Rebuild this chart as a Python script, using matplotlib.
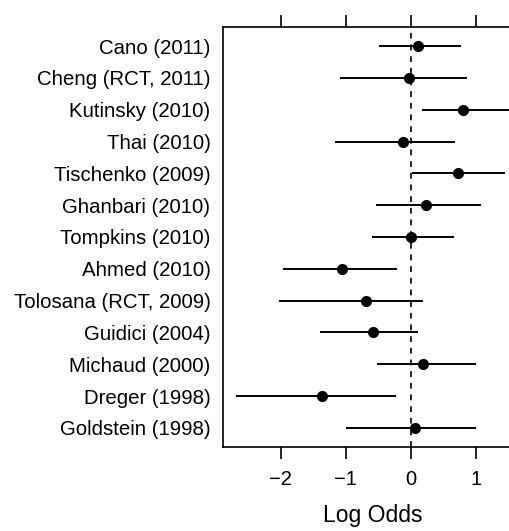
import matplotlib
matplotlib.use("Agg")
import matplotlib.pyplot as plt

# studies, top to bottom
studies = ["Cano (2011)", "Cheng (RCT, 2011)", "Kutinsky (2010)", "Thai (2010)",
           "Tischenko (2009)", "Ghanbari (2010)", "Tompkins (2010)", "Ahmed (2010)",
           "Tolosana (RCT, 2009)", "Guidici (2004)", "Michaud (2000)", "Dreger (1998)",
           "Goldstein (1998)"]
log_odds = [0.12, -0.03, 0.81, -0.12, 0.73, 0.24, 0.01, -1.06, -0.69, -0.58, 0.19, -1.36, 0.07]
ci_low = [-0.48, -1.09, 0.18, -1.16, 0.02, -0.53, -0.59, -1.96, -2.02, -1.39, -0.52, -2.69, -0.99]
ci_high = [0.78, 0.87, 1.60, 0.68, 1.46, 1.09, 0.66, -0.21, 0.19, 0.12, 1.00, -0.23, 1.00]
xticks = [-2, -1, 0, 1]

plt.rcParams['font.family'] = ['Liberation Sans', 'DejaVu Sans']

fig = plt.figure(figsize=(5.10, 5.31), dpi=100)
ax = fig.add_axes([223 / 510, 84 / 531, 300 / 510, 420 / 531])

ypos = list(range(1, len(studies) + 1))
ax.axvline(0, color="black", linestyle=(0, (3.5, 3.5)), linewidth=1.2, zorder=1)
ax.hlines(ypos, ci_low, ci_high, color="black", linewidth=1.4, zorder=2)
ax.plot(log_odds, ypos, "o", color="black", markersize=7, zorder=3)

ax.set_xlim(-2.89, 1.73)
ax.set_ylim(13.6, 0.4)
ax.set_yticks(ypos)
ax.set_yticklabels(studies, fontsize=14.7)
ax.tick_params(axis="y", length=0, pad=9)

ax.set_xticks(xticks)
ax.set_xticklabels(["\u22122", "\u22121", "0", "1"], fontsize=14.5)
ax.tick_params(axis="x", direction="out", length=8.5, width=1.2, pad=8,
               top=True, labeltop=False)
ax.set_xlabel("Log Odds", fontsize=16.5, labelpad=11)

ax.spines["right"].set_visible(False)
for s in ["left", "top", "bottom"]:
    ax.spines[s].set_linewidth(1.2)

fig.savefig("out.png", dpi=100)
